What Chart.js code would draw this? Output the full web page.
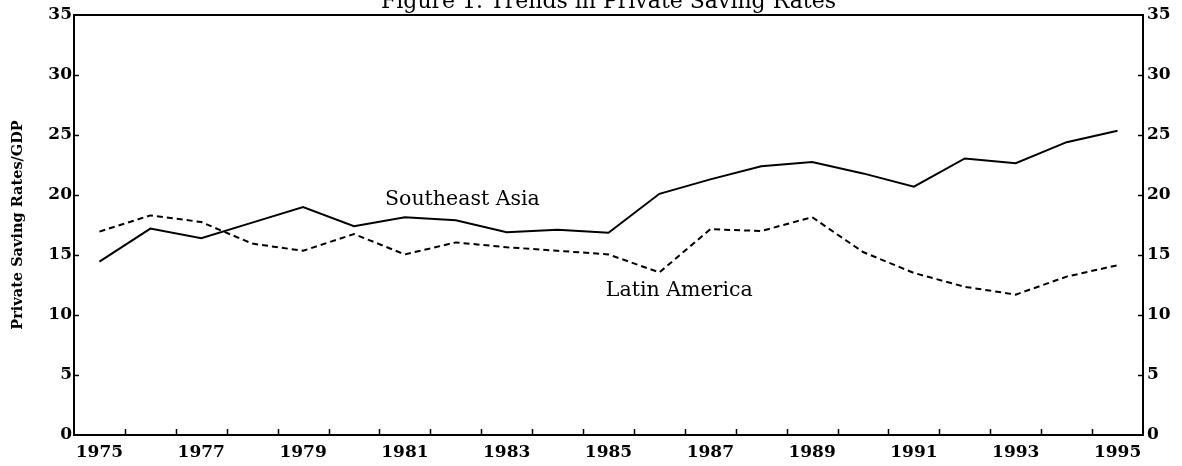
<!DOCTYPE html>
<html>
<head>
<meta charset="utf-8">
<script src="https://cdn.jsdelivr.net/npm/chart.js@4.4.1/dist/chart.umd.min.js"></script>
<style>
  html, body { margin: 0; padding: 0; background: #fff; }
  #box { width: 1182px; height: 466px; position: relative; }
</style>
</head>
<body>
<div id="box"><canvas id="savingChart"></canvas></div>
<script>
// data
const years = [1975, 1976, 1977, 1978, 1979, 1980, 1981, 1982, 1983, 1984, 1985,
               1986, 1987, 1988, 1989, 1990, 1991, 1992, 1993, 1994, 1995];
const southeastAsia = [14.45, 17.2, 16.4, 17.7, 19.0, 17.4, 18.15, 17.9, 16.9, 17.1, 16.85,
                       20.1, 21.3, 22.4, 22.75, 21.8, 20.7, 23.05, 22.65, 24.4, 25.35];
const latinAmerica = [16.95, 18.3, 17.75, 15.95, 15.35, 16.75, 15.05, 16.05, 15.65, 15.35, 15.05,
                      13.55, 17.15, 17.0, 18.15, 15.25, 13.5, 12.35, 11.7, 13.2, 14.15];
const yearLabels = [1975, 1977, 1979, 1981, 1983, 1985, 1987, 1989, 1991, 1993, 1995];
const yTicks = [0, 5, 10, 15, 20, 25, 30, 35];
const seriesNames = ['Southeast Asia', 'Latin America'];
const chartTitle = 'Figure 1. Trends in Private Saving Rates';

// where the two series names sit (in data units)
const nameSpots = [
    { x: 1982.13, y: 19.17 },
    { x: 1986.39, y: 11.6 }
];

const serif = "'DejaVu Serif', serif";

function pts(vals) {
    return years.map(function (yr, i) { return { x: yr, y: vals[i] }; });
}

// frame, inward tick marks, title and series names
const decor = {
    id: 'decor',
    afterDatasetsDraw(chart) {
        const ctx = chart.ctx;
        const a = chart.chartArea;
        const xs = chart.scales.x, ys = chart.scales.y;
        ctx.save();
        ctx.strokeStyle = '#000';
        ctx.lineWidth = 2;
        ctx.strokeRect(a.left, a.top, a.right - a.left, a.bottom - a.top);
        ctx.lineWidth = 1.5;
        ctx.beginPath();
        for (let i = 0; i < years.length - 1; i++) {
            const px = Math.round(xs.getPixelForValue(years[i] + 0.5)) + 0.5;
            ctx.moveTo(px, a.bottom);
            ctx.lineTo(px, a.bottom - 6);
        }
        yTicks.forEach(function (v) {
            if (v === 0 || v === 35) return;
            const py = Math.round(ys.getPixelForValue(v)) + 0.5;
            ctx.moveTo(a.left, py);
            ctx.lineTo(a.left + 5, py);
            ctx.moveTo(a.right, py);
            ctx.lineTo(a.right - 5, py);
        });
        ctx.stroke();

        ctx.fillStyle = '#000';
        ctx.textAlign = 'center';
        ctx.textBaseline = 'alphabetic';
        ctx.font = '20.5px ' + serif;
        seriesNames.forEach(function (name, i) {
            ctx.fillText(name, xs.getPixelForValue(nameSpots[i].x), ys.getPixelForValue(nameSpots[i].y));
        });
        ctx.font = '22px ' + serif;
        ctx.fillText(chartTitle, (a.left + a.right) / 2, 8);
        ctx.restore();
    }
};

new Chart('savingChart', {
    type: 'line',
    data: {
        datasets: [{
            label: seriesNames[0],
            data: pts(southeastAsia),
            borderColor: '#000',
            borderWidth: 2,
            pointRadius: 0,
            tension: 0
        }, {
            label: seriesNames[1],
            data: pts(latinAmerica),
            borderColor: '#000',
            borderWidth: 2,
            borderDash: [6, 4],
            pointRadius: 0,
            tension: 0
        }]
    },
    options: {
        responsive: true,
        maintainAspectRatio: false,
        animation: false,
        devicePixelRatio: 1,
        layout: { padding: { top: 15, left: 0, right: 0, bottom: 0 } },
        plugins: {
            legend: { display: false },
            title: { display: false },
            tooltip: { enabled: false }
        },
        scales: {
            x: {
                type: 'linear',
                min: 1974.5,
                max: 1995.5,
                grid: { display: false, drawTicks: false },
                border: { display: false },
                afterBuildTicks: function (scale) {
                    scale.ticks = yearLabels.map(function (v) { return { value: v }; });
                },
                afterFit: function (scale) { scale.height = 31; },
                ticks: {
                    autoSkip: false,
                    maxRotation: 0,
                    padding: 7,
                    color: '#000',
                    font: { family: serif, size: 17, weight: 'bold' },
                    callback: function (v) { return String(v); }
                }
            },
            y: {
                position: 'left',
                min: 0,
                max: 35,
                grid: { display: false, drawTicks: false },
                border: { display: false },
                afterBuildTicks: function (scale) {
                    scale.ticks = yTicks.map(function (v) { return { value: v }; });
                },
                afterFit: function (scale) { scale.width = 74; },
                ticks: {
                    padding: 2,
                    color: '#000',
                    font: { family: serif, size: 17, weight: 'bold' }
                },
                title: {
                    display: true,
                    text: 'Private Saving Rates/GDP',
                    color: '#000',
                    font: { family: serif, size: 14.5, weight: 'bold' },
                    padding: { top: 10, bottom: 0 }
                }
            },
            y2: {
                position: 'right',
                min: 0,
                max: 35,
                grid: { display: false, drawTicks: false },
                border: { display: false },
                afterBuildTicks: function (scale) {
                    scale.ticks = yTicks.map(function (v) { return { value: v }; });
                },
                afterFit: function (scale) { scale.width = 39; },
                ticks: {
                    padding: 4,
                    color: '#000',
                    font: { family: serif, size: 17, weight: 'bold' }
                }
            }
        }
    },
    plugins: [decor]
});
</script>
</body>
</html>
